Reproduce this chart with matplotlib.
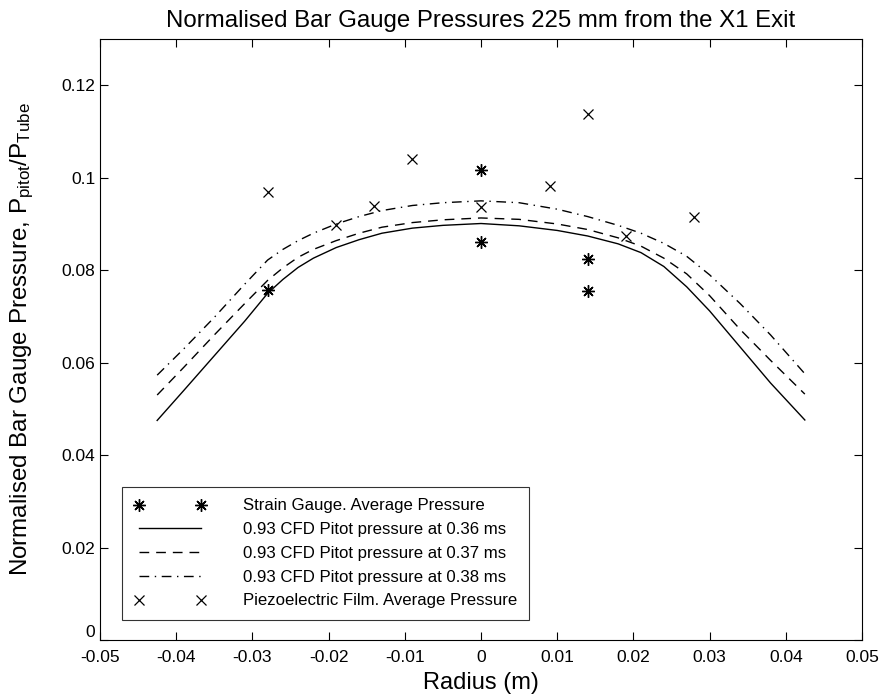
import matplotlib
matplotlib.use("Agg")
import matplotlib.pyplot as plt

plt.rcParams['font.family'] = ['Liberation Sans', 'DejaVu Sans']
plt.rcParams['mathtext.default'] = 'regular'

# Strain gauge average pressure (asterisks)
sg_r = [-0.028, 0.0, 0.0, 0.014, 0.014]
sg_p = [0.0757, 0.1017, 0.0861, 0.0824, 0.0755]

# Piezoelectric film average pressure (crosses)
pf_r = [-0.028, -0.019, -0.014, -0.009, 0.0, 0.009, 0.014, 0.019, 0.028]
pf_p = [0.0969, 0.0898, 0.0939, 0.1040, 0.0936, 0.0982, 0.1137, 0.0874, 0.0915]

# 0.93 CFD pitot pressure profiles
cfd_r = [-0.0425, -0.039, -0.035, -0.031, -0.028, -0.026, -0.024, -0.022,
         -0.019, -0.016, -0.013, -0.009, -0.005, 0.0,
         0.005, 0.010, 0.014, 0.018, 0.021, 0.024, 0.027, 0.030,
         0.034, 0.038, 0.0425]
cfd_036 = [0.0475, 0.0540, 0.0615, 0.0690, 0.0750, 0.0780, 0.0806, 0.0826,
           0.0849, 0.0866, 0.0880, 0.0891, 0.0897, 0.0901,
           0.0896, 0.0886, 0.0874, 0.0857, 0.0838, 0.0808, 0.0764, 0.0712,
           0.0634, 0.0556, 0.0476]
cfd_037 = [0.0530, 0.0590, 0.0660, 0.0728, 0.0778, 0.0805, 0.0828, 0.0845,
           0.0864, 0.0880, 0.0893, 0.0903, 0.0909, 0.0913,
           0.0910, 0.0900, 0.0888, 0.0870, 0.0852, 0.0826, 0.0792, 0.0745,
           0.0672, 0.0605, 0.0532]
cfd_038 = [0.0573, 0.0630, 0.0698, 0.0770, 0.0822, 0.0845, 0.0864, 0.0880,
           0.0900, 0.0916, 0.0929, 0.0940, 0.0946, 0.0950,
           0.0946, 0.0932, 0.0916, 0.0897, 0.0880, 0.0858, 0.0830, 0.0790,
           0.0728, 0.0660, 0.0576]

xticks = [-0.05, -0.04, -0.03, -0.02, -0.01, 0, 0.01, 0.02, 0.03, 0.04, 0.05]
xticklabels = ['-0.05', '-0.04', '-0.03', '-0.02', '-0.01', '0',
               '0.01', '0.02', '0.03', '0.04', '0.05']
yticks = [0, 0.02, 0.04, 0.06, 0.08, 0.1, 0.12]
yticklabels = ['0', '0.02', '0.04', '0.06', '0.08', '0.1', '0.12']

fig = plt.figure(figsize=(8.82, 6.95), dpi=100)
ax = fig.add_axes([0.1134, 0.0791, 0.8639, 0.8647])

asterisk = (8, 2, 0)
ax.plot(sg_r, sg_p, linestyle='none', marker=asterisk, markersize=9,
        color='k', markeredgewidth=1.0, label='Strain Gauge. Average Pressure')
ax.plot(cfd_r, cfd_036, 'k-', linewidth=1.0,
        label='0.93 CFD Pitot pressure at 0.36 ms')
ax.plot(cfd_r, cfd_037, color='k', linewidth=1.0, dashes=(7, 5),
        label='0.93 CFD Pitot pressure at 0.37 ms')
ax.plot(cfd_r, cfd_038, color='k', linewidth=1.0, dashes=(7, 4, 1, 4),
        label='0.93 CFD Pitot pressure at 0.38 ms')
ax.plot(pf_r, pf_p, linestyle='none', marker='x', markersize=7,
        color='k', markeredgewidth=0.9, label='Piezoelectric Film. Average Pressure')

ax.set_xlim(-0.05, 0.05)
ax.set_ylim(0, 0.13)
ax.set_xticks(xticks)
ax.set_xticklabels(xticklabels)
ax.set_yticks(yticks)
ax.set_yticklabels(yticklabels)
ax.tick_params(direction='in', top=True, right=True, length=6, labelsize=12.5, width=0.8)
ax.tick_params(axis='x', pad=7)
ax.get_yticklabels()[0].set_verticalalignment('bottom')
for s in ax.spines.values():
    s.set_linewidth(0.8)

ax.set_xlabel('Radius (m)', fontsize=17, labelpad=5)
ax.set_ylabel('Normalised Bar Gauge Pressure, P$_{pitot}$/P$_{Tube}$', fontsize=17.4, labelpad=18)
ax.set_title('Normalised Bar Gauge Pressures 225 mm from the X1 Exit', fontsize=17.3, pad=9)

leg = ax.legend(loc='lower left', bbox_to_anchor=(0.029, 0.033), borderaxespad=0,
                numpoints=2, handlelength=4.3, handletextpad=2.2, fontsize=12.1,
                frameon=True, fancybox=False, edgecolor='k', labelspacing=0.52,
                borderpad=0.7)
leg.get_frame().set_linewidth(0.8)

fig.savefig('out.png', dpi=100)
